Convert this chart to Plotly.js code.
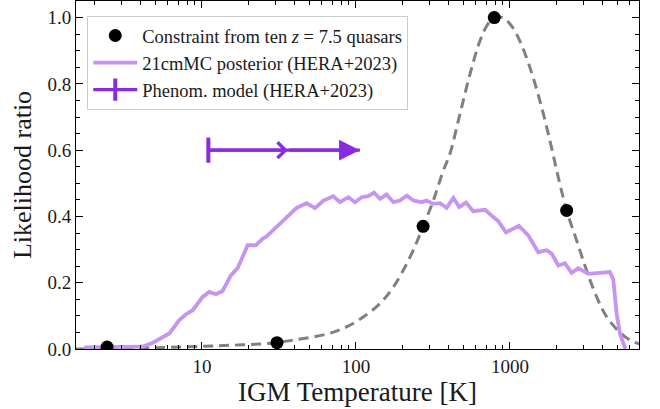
<!DOCTYPE html>
<html>
<head>
<meta charset="utf-8">
<script src="https://cdn.plot.ly/plotly-3.0.1.min.js"></script>
<style>html,body{margin:0;padding:0;background:#fff;}#chart{width:660px;height:409px;}</style>
</head>
<body>
<div id="chart"></div>
<script>
// Quasar constraint (black dots)
const dotT = [2.42, 30.7, 273, 791, 2335];
const dotV = [0.006, 0.019, 0.37, 1.0, 0.418];

// Likelihood curve through the constraint (grey dashed)
const likeT = [1.5, 2.42, 5, 10, 15, 23.8, 30.7, 39.2, 64.5, 87, 112, 143, 175, 214, 248, 273, 318, 369, 407, 473, 550, 638, 705, 791, 906, 1026, 1161, 1349, 1567, 1820, 2061, 2335, 2709, 3147, 3658, 4250, 5050, 6010, 6980];
const likeV = [0.0, 0.001, 0.004, 0.008, 0.011, 0.015, 0.019, 0.027, 0.045, 0.067, 0.097, 0.137, 0.187, 0.258, 0.322, 0.37, 0.448, 0.538, 0.588, 0.708, 0.829, 0.929, 0.974, 1.0, 0.999, 0.974, 0.929, 0.849, 0.748, 0.628, 0.518, 0.418, 0.328, 0.237, 0.157, 0.097, 0.055, 0.027, 0.015];

// 21cmMC posterior (HERA+2023)
const postT = [1.72, 3.0, 4.1, 4.8, 5.56, 6.14, 7.12, 7.88, 8.7, 10.1, 11.15, 12.3, 13.6, 15.4, 17.1, 19.8, 22.4, 24.8, 26.3, 32.1, 36.3, 41.2, 47.8, 54.2, 61.4, 71.3, 78.8, 89.2, 98.6, 109, 120, 131, 143, 158, 175, 193, 214, 236, 267, 288, 318, 351, 388, 407, 429, 469, 518, 578, 689, 780, 840, 942, 1143, 1315, 1527, 1730, 1866, 2061, 2277, 2516, 2780, 3228, 3658, 4250, 4460, 4690, 4930, 5180, 5500, 5620];
const postV = [0.005, 0.005, 0.007, 0.019, 0.034, 0.047, 0.087, 0.105, 0.117, 0.157, 0.172, 0.165, 0.175, 0.222, 0.245, 0.313, 0.313, 0.333, 0.34, 0.378, 0.398, 0.426, 0.44, 0.425, 0.448, 0.461, 0.443, 0.458, 0.443, 0.458, 0.461, 0.472, 0.453, 0.466, 0.443, 0.448, 0.463, 0.448, 0.443, 0.448, 0.438, 0.44, 0.426, 0.443, 0.456, 0.428, 0.442, 0.416, 0.42, 0.398, 0.386, 0.352, 0.372, 0.343, 0.292, 0.298, 0.288, 0.252, 0.259, 0.23, 0.244, 0.227, 0.229, 0.229, 0.232, 0.21, 0.107, 0.047, 0.01, 0.0];

// Phenomenological model lower limit (HERA+2023): start, chevron, arrow tip
const phenomT = [11.0, 36.1, 106];
const phenomY = [0.6, 0.6, 0.6];

const xTicks = [10, 100, 1000];
const xTickText = ['10', '100', '1000'];

const PURPLE = '#8a2be2';
const LIGHT = 'rgb(197,149,241)';
const FONT = 'Liberation Serif, DejaVu Serif, serif';
const TXT = '#1a1a1a';

const traces = [
  {x: likeT, y: likeV, mode: 'lines', line: {color: 'rgb(128,128,128)', width: 3, dash: '10px,6px', shape: 'spline'}, showlegend: false, hoverinfo: 'skip'},
  {x: postT, y: postV, mode: 'lines', line: {color: LIGHT, width: 3.8}, showlegend: false},
  {x: [phenomT[0], phenomT[2]], y: [phenomY[0], phenomY[2]], mode: 'lines', line: {color: PURPLE, width: 3.2}, showlegend: false},
  {x: [phenomT[0]], y: [phenomY[0]], mode: 'markers', marker: {symbol: 'line-ns-open', size: 18, color: PURPLE, line: {color: PURPLE, width: 4}}, showlegend: false},
  {x: dotT, y: dotV, mode: 'markers', marker: {color: 'black', size: 13}, name: 'Constraint from ten <i>z</i> = 7.5 quasars'},
  // legend entries
  {x: [null], y: [null], mode: 'lines', line: {color: LIGHT, width: 3.8}, name: '21cmMC posterior (HERA+2023)'},
  {x: [null], y: [null], mode: 'lines+markers', line: {color: PURPLE, width: 3.2}, marker: {symbol: 'line-ns-open', size: 16, color: PURPLE, line: {color: PURPLE, width: 4}}, name: 'Phenom. model (HERA+2023)'}
];

const annotations = [
  {x: Math.log10(phenomT[1]), y: phenomY[1], ax: Math.log10(phenomT[0]), ay: phenomY[0], axref: 'x', ayref: 'y', xref: 'x', yref: 'y', text: '', showarrow: true, arrowhead: 4, arrowsize: 0.95, arrowwidth: 3.2, arrowcolor: PURPLE},
  {x: Math.log10(phenomT[2]), y: phenomY[2], ax: Math.log10(phenomT[1]), ay: phenomY[1], axref: 'x', ayref: 'y', xref: 'x', yref: 'y', text: '', showarrow: true, arrowhead: 2, arrowsize: 1.3, arrowwidth: 3.2, arrowcolor: PURPLE}
];

const layout = {
  width: 660, height: 409,
  margin: {l: 76, r: 21, t: 1, b: 60},
  paper_bgcolor: 'white', plot_bgcolor: 'white',
  font: {family: FONT, color: TXT, size: 19},
  showlegend: true,
  legend: {x: 0.02, y: 0.957, xanchor: 'left', yanchor: 'top', bgcolor: 'white', bordercolor: '#cccccc', borderwidth: 1, itemwidth: 44, font: {family: FONT, size: 18.5, color: TXT}, tracegroupgap: 0},
  xaxis: {
    type: 'log', range: [Math.log10(1.52), Math.log10(6890)],
    tickvals: xTicks, ticktext: xTickText,
    ticks: 'inside', ticklen: 7, tickwidth: 1, tickcolor: 'black',
    showline: true, linecolor: 'black', linewidth: 1, mirror: 'allticks',
    showgrid: false, zeroline: false,
    tickfont: {family: FONT, size: 19, color: TXT},
    minor: {ticks: 'inside', ticklen: 4, tickcolor: 'black', tickwidth: 1, dtick: 'D1', showgrid: false},
    title: {text: 'IGM Temperature [K]', font: {family: FONT, size: 27, color: TXT}, standoff: 4}
  },
  yaxis: {
    range: [0, 1.05], dtick: 0.2, tick0: 0, tickformat: '.1f',
    ticks: 'inside', ticklen: 7, tickwidth: 1, tickcolor: 'black',
    showline: true, linecolor: 'black', linewidth: 1, mirror: 'allticks',
    showgrid: false, zeroline: false,
    tickfont: {family: FONT, size: 19, color: TXT},
    minor: {ticks: 'inside', ticklen: 4, tickcolor: 'black', tickwidth: 1, dtick: 0.05, showgrid: false},
    title: {text: 'Likelihood ratio', font: {family: FONT, size: 26, color: TXT}, standoff: 8}
  },
  annotations: annotations
};

Plotly.newPlot('chart', traces, layout, {displayModeBar: false, staticPlot: true});
</script>
</body>
</html>
